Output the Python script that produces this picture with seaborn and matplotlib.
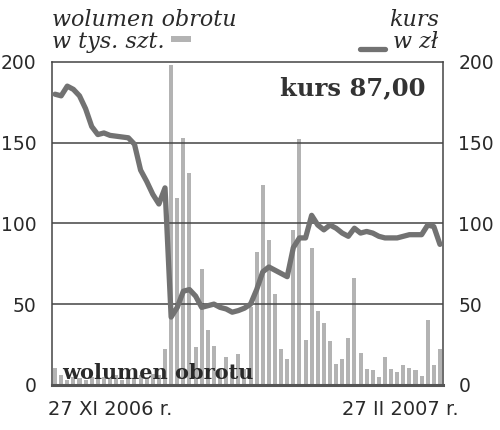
#!/usr/bin/python3

"""Wolumen obrotu i kurs: 27 XI 2006 - 27 II 2007."""

# %% Import dependencies ----
import numpy as np
import pandas as pd
import matplotlib
matplotlib.use('Agg')
import matplotlib.pyplot as plt
from matplotlib.lines import Line2D
from matplotlib.patches import Rectangle
import seaborn as sns


# %% Data ----
# daily trading volume (tys. szt.)
volume = [10.5, 6, 3, 5, 4, 3, 5, 6, 5, 4, 6, 3, 5, 4, 6, 5, 7, 6, 22,
          198, 116, 153, 131, 23.5, 72, 34, 24, 10, 17, 8, 19, 10,
          48, 82, 124, 90, 56, 22, 16, 96, 152, 28, 85, 46, 38, 27,
          13, 16, 29, 66, 20, 10, 9, 5, 17, 10, 8, 12.5, 10.5, 9.5,
          5.5, 40, 12.5, 22]

# closing price (zl)
price = [180, 179, 185, 183, 179, 171, 160, 155, 156, 154.5, 154, 153.5,
         153, 149, 133, 126, 118, 112, 122, 42, 48, 58, 59, 55, 48, 49,
         50, 48, 47, 45, 46, 47.5, 50, 59, 70, 73, 71, 69, 67, 85, 91,
         91, 105, 99, 96, 99, 97, 94, 92, 97, 94, 95, 94, 92, 91, 91,
         91, 92, 93, 93, 93, 99, 98, 87]

y_ticks = [0, 50, 100, 150, 200]
date_labels = ['27 XI 2006 r.', '27 II 2007 r.']
last_price_label = 'kurs 87,00'

df = pd.DataFrame({'day': np.arange(len(volume)), 'volume': volume, 'price': price})

bar_color = '#b3b3b3'
line_color = '#727272'
ink = '#2a2a2a'


# %% Plot ----
sns.set_theme(style='white')
plt.rcParams['font.family'] = ['DejaVu Sans']

fig = plt.figure(figsize=(5, 4.3), dpi=100)
ax = fig.add_axes([0.104, 0.105, 0.782, 0.751])

sns.barplot(data=df, x='day', y='volume', color=bar_color, saturation=1,
            width=0.66, linewidth=0, ax=ax)
sns.lineplot(data=df, x='day', y='price', color=line_color, linewidth=3.8,
             solid_capstyle='round', solid_joinstyle='round', ax=ax, zorder=3)

ax.set_xlim(-0.5, len(volume) - 0.5)
ax.set_ylim(0, 200)
ax.set_yticks(y_ticks)
ax.set_xticks([])
ax.set_xlabel('')
ax.set_ylabel('')
for y in y_ticks[1:-1]:
    ax.axhline(y, color='#444444', linewidth=1.1, zorder=1.5)

for side in ['left', 'right', 'top']:
    ax.spines[side].set_color('#444444')
    ax.spines[side].set_linewidth(1.1)
ax.spines['bottom'].set_color('#555555')
ax.spines['bottom'].set_linewidth(2.2)

ax.tick_params(axis='y', left=False, right=False, labelleft=True, labelright=True,
               labelsize=13.5, labelcolor=ink, pad=5)

# text inside the chart
ax.text(0.955, 0.955, last_price_label, transform=ax.transAxes, ha='right', va='top',
        fontsize=17.5, fontweight='bold', family='DejaVu Serif', color='#333333')
ax.text(0.025, 0.006, 'wolumen obrotu', transform=ax.transAxes, ha='left', va='bottom',
        fontsize=15, fontweight='bold', family='DejaVu Serif', color=ink, zorder=5)

# date labels under the axis
fig.text(0.096, 0.035, date_labels[0], ha='left', va='baseline', fontsize=14, color=ink)
fig.text(0.918, 0.035, date_labels[1], ha='right', va='baseline', fontsize=14, color=ink)

# header with legend keys
serif_it = dict(family='DejaVu Serif', style='italic', fontsize=16, color=ink)
fig.text(0.104, 0.94, 'wolumen obrotu', ha='left', va='baseline', **serif_it)
fig.text(0.104, 0.888, 'w tys. szt.', ha='left', va='baseline', **serif_it)
fig.text(0.877, 0.94, 'kurs', ha='right', va='baseline', **serif_it)
fig.text(0.877, 0.888, 'w zł', ha='right', va='baseline', **serif_it)

fig.add_artist(Rectangle((0.342, 0.903), 0.04, 0.014, transform=fig.transFigure,
                         facecolor=bar_color, edgecolor='none'))
fig.add_artist(Line2D([0.72, 0.77], [0.886, 0.886], transform=fig.transFigure,
                      color=line_color, linewidth=3.8, solid_capstyle='round'))

fig.savefig('out.png', dpi=100)
